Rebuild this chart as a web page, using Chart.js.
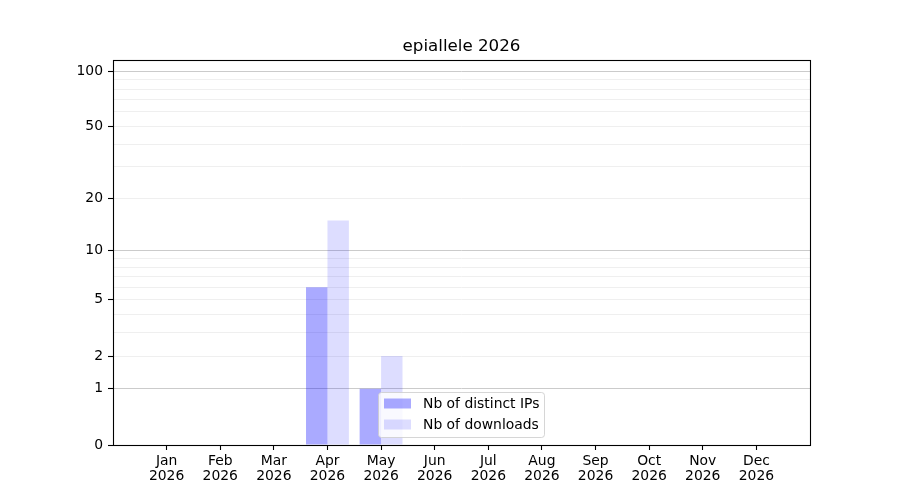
<!DOCTYPE html>
<html>
<head>
<meta charset="utf-8">
<script src="https://cdn.jsdelivr.net/npm/chart.js@4/dist/chart.umd.min.js"></script>
<style>
  html, body { margin: 0; padding: 0; background: #ffffff; }
  #wrap { width: 900px; height: 500px; }
</style>
</head>
<body>
<div id="wrap"><canvas id="c" width="900" height="500"></canvas></div>
<script>
// ---- data ----
const months = ['Jan','Feb','Mar','Apr','May','Jun','Jul','Aug','Sep','Oct','Nov','Dec'];
const yearLabel = '2026';
const distinctIPs = [0, 0, 0, 6, 1, 0, 0, 0, 0, 0, 0, 0];
const downloads   = [0, 0, 0, 15, 2, 0, 0, 0, 0, 0, 0, 0];
const yTickLabels = [0, 1, 2, 5, 10, 20, 50, 100];
const yMajorGrid  = [1, 10, 100];
const yMinorGrid  = [2, 3, 4, 5, 6, 7, 8, 9, 20, 30, 40, 50, 60, 70, 80, 90];
const titleText = 'epiallele 2026';
const seriesNames = ['Nb of distinct IPs', 'Nb of downloads'];

// ---- helpers ----
const tf = v => Math.log10(1 + v);           // log(1+x) scale
const allYTicks = Array.from(new Set([0, ...yTickLabels, ...yMajorGrid, ...yMinorGrid])).sort((a,b)=>a-b);
const FONT = 'DejaVu Sans';
const colIP = 'rgba(0,0,255,0.333)';
const colDL = 'rgba(0,0,255,0.133)';

const toPoints = arr => arr.map((v, i) => ({ x: i, y: tf(v) }));

const framePlugin = {
  id: 'frameAndLegend',
  afterDraw(chart) {
    const { ctx, chartArea: a } = chart;
    ctx.save();
    // title
    ctx.font = '16.7px "' + FONT + '"';
    ctx.fillStyle = '#000000';
    ctx.textAlign = 'center';
    ctx.textBaseline = 'middle';
    ctx.fillText(titleText, (a.left + a.right) / 2, 46.5);
    // frame
    ctx.strokeStyle = '#000000';
    ctx.lineWidth = 1.1;
    ctx.strokeRect(Math.round(a.left) + 0.5, Math.round(a.top) + 0.5,
                   Math.round(a.right - a.left), Math.round(a.bottom - a.top));
    // legend
    const lx = 378.5, ly = 392.5, lw = 166, lh = 45;
    ctx.beginPath();
    ctx.roundRect(lx, ly, lw, lh, 3);
    ctx.fillStyle = 'rgba(255,255,255,0.8)';
    ctx.fill();
    ctx.strokeStyle = 'rgba(204,204,204,0.8)';
    ctx.lineWidth = 1;
    ctx.stroke();
    const cols = [colIP, colDL];
    const rowsY = [404, 425];
    ctx.font = '13.9px "' + FONT + '"';
    ctx.textBaseline = 'middle';
    ctx.textAlign = 'left';
    for (let i = 0; i < 2; i++) {
      ctx.fillStyle = cols[i];
      ctx.fillRect(384, rowsY[i] - 5.5, 27, 10);
      ctx.fillStyle = '#000000';
      ctx.fillText(seriesNames[i], 423, rowsY[i] + 0.5);
    }
    ctx.restore();
  }
};

new Chart(document.getElementById('c'), {
  type: 'bar',
  data: {
    datasets: [
      { label: seriesNames[0], data: toPoints(distinctIPs), backgroundColor: colIP, borderWidth: 0,
        categoryPercentage: 0.8, barPercentage: 1.0 },
      { label: seriesNames[1], data: toPoints(downloads), backgroundColor: colDL, borderWidth: 0,
        categoryPercentage: 0.8, barPercentage: 1.0 }
    ]
  },
  options: {
    responsive: false,
    animation: false,
    events: [],
    layout: { padding: { left: 0, right: 90, top: 60, bottom: 0 } },
    plugins: {
      legend: { display: false },
      tooltip: { enabled: false },
      title: { display: false }
    },
    scales: {
      x: {
        type: 'linear', min: -1, max: 12, offset: false,
        afterBuildTicks: s => { s.ticks = months.map((m, i) => ({ value: i })); },
        afterFit: s => { s.height = 55; },
        ticks: {
          autoSkip: false, maxRotation: 0, minRotation: 0, padding: 4,
          color: '#000000',
          font: { family: FONT, size: 13.9, lineHeight: 1.05 },
          callback: (v) => [months[v], yearLabel]
        },
        grid: { offset: false, drawOnChartArea: false, drawTicks: true, tickLength: 5, tickColor: '#000000', tickWidth: 1.1 },
        border: { display: false }
      },
      y: {
        type: 'linear', min: 0, max: 2.064,
        afterBuildTicks: s => { s.ticks = allYTicks.map(v => ({ value: tf(v) })); },
        afterFit: s => { s.width = 113; },
        ticks: {
          autoSkip: false, padding: 5, color: '#000000',
          font: { family: FONT, size: 13.9 },
          callback: (v, i) => yTickLabels.includes(allYTicks[i]) ? String(allYTicks[i]) : ''
        },
        grid: {
          offset: false,
          drawTicks: true, tickLength: 5, tickWidth: 1.1,
          color: ctx => {
            const raw = allYTicks[ctx.index];
            if (raw === 0) return 'rgba(0,0,0,0)';
            return yMajorGrid.includes(raw) ? '#cbcbcb' : '#efefef';
          },
          tickColor: ctx => yTickLabels.includes(allYTicks[ctx.index]) ? '#000000' : 'rgba(0,0,0,0)',
          lineWidth: 1
        },
        border: { display: false }
      }
    }
  },
  plugins: [framePlugin]
});
</script>
</body>
</html>
